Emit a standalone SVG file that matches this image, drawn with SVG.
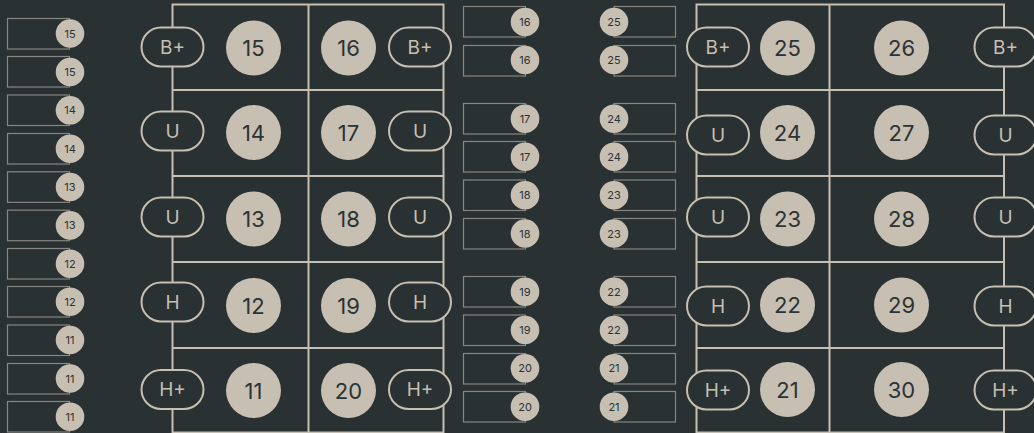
<svg xmlns="http://www.w3.org/2000/svg" width="1034" height="433" viewBox="0 0 1034 433">
<style>
.bg{fill:#293133}
.grid{fill:none;stroke:#c6bfb2;stroke-width:2}
.pill{fill:#293133;stroke:#c6bfb2;stroke-width:2}
.pt{font-family:Inter,"Liberation Sans",sans-serif;font-size:19px;fill:#c6bfb2;text-anchor:middle;dominant-baseline:central}
.big{fill:#c6bfb2}
.bt{font-family:Inter,"Liberation Sans",sans-serif;font-size:22px;fill:#2b3335;text-anchor:middle;dominant-baseline:central}
.sb{fill:none;stroke:#878680;stroke-width:1.2}
.sc{fill:#c6bfb2}
.st{font-family:Inter,"Liberation Sans",sans-serif;font-size:11px;fill:#2b3335;text-anchor:middle;dominant-baseline:central}
</style>
<defs>
<rect id="pl" x="-31" y="-19.5" width="62" height="39" rx="19.5" class="pill"/>
</defs>
<rect class="bg" x="0" y="0" width="1034" height="433"/>

<g id="connectors">
<rect class="grid" x="172.5" y="4.5" width="271" height="428"/>
<line class="grid" x1="308.5" y1="4.5" x2="308.5" y2="432.5"/>
<line class="grid" x1="172.5" y1="90" x2="443.5" y2="90"/>
<line class="grid" x1="172.5" y1="176" x2="443.5" y2="176"/>
<line class="grid" x1="172.5" y1="262" x2="443.5" y2="262"/>
<line class="grid" x1="172.5" y1="348" x2="443.5" y2="348"/>
<rect class="grid" x="696.5" y="4.5" width="307.5" height="428"/>
<line class="grid" x1="829.5" y1="4.5" x2="829.5" y2="432.5"/>
<line class="grid" x1="696.5" y1="90" x2="1004" y2="90"/>
<line class="grid" x1="696.5" y1="176" x2="1004" y2="176"/>
<line class="grid" x1="696.5" y1="262" x2="1004" y2="262"/>
<line class="grid" x1="696.5" y1="348" x2="1004" y2="348"/>
</g>

<g id="left-grid-circles">
<g id="c15"><circle class="big" cx="253.5" cy="48" r="27.5"/><text class="bt" x="253.5" y="48">15</text></g>
<g id="c14"><circle class="big" cx="253.5" cy="132.5" r="27.5"/><text class="bt" x="253.5" y="132.5">14</text></g>
<g id="c13"><circle class="big" cx="253.5" cy="219" r="27.5"/><text class="bt" x="253.5" y="219">13</text></g>
<g id="c12"><circle class="big" cx="253.5" cy="305.5" r="27.5"/><text class="bt" x="253.5" y="305.5">12</text></g>
<g id="c11"><circle class="big" cx="253.5" cy="390.5" r="27.5"/><text class="bt" x="253.5" y="390.5">11</text></g>
<g id="c16"><circle class="big" cx="348.5" cy="48" r="27.5"/><text class="bt" x="348.5" y="48">16</text></g>
<g id="c17"><circle class="big" cx="348.5" cy="132.5" r="27.5"/><text class="bt" x="348.5" y="132.5">17</text></g>
<g id="c18"><circle class="big" cx="348.5" cy="219" r="27.5"/><text class="bt" x="348.5" y="219">18</text></g>
<g id="c19"><circle class="big" cx="348.5" cy="305.5" r="27.5"/><text class="bt" x="348.5" y="305.5">19</text></g>
<g id="c20"><circle class="big" cx="348.5" cy="390.5" r="27.5"/><text class="bt" x="348.5" y="390.5">20</text></g>
</g>

<g id="right-grid-circles">
<g id="c25"><circle class="big" cx="787.5" cy="48" r="27.5"/><text class="bt" x="787.5" y="48">25</text></g>
<g id="c24"><circle class="big" cx="787.5" cy="132.5" r="27.5"/><text class="bt" x="787.5" y="132.5">24</text></g>
<g id="c23"><circle class="big" cx="787.5" cy="219" r="27.5"/><text class="bt" x="787.5" y="219">23</text></g>
<g id="c22"><circle class="big" cx="787.5" cy="305" r="27.5"/><text class="bt" x="787.5" y="305">22</text></g>
<g id="c21"><circle class="big" cx="787.5" cy="389.5" r="27.5"/><text class="bt" x="787.5" y="389.5">21</text></g>
<g id="c26"><circle class="big" cx="901.5" cy="48" r="27.5"/><text class="bt" x="901.5" y="48">26</text></g>
<g id="c27"><circle class="big" cx="901.5" cy="132.5" r="27.5"/><text class="bt" x="901.5" y="132.5">27</text></g>
<g id="c28"><circle class="big" cx="901.5" cy="219" r="27.5"/><text class="bt" x="901.5" y="219">28</text></g>
<g id="c29"><circle class="big" cx="901.5" cy="305" r="27.5"/><text class="bt" x="901.5" y="305">29</text></g>
<g id="c30"><circle class="big" cx="901.5" cy="389.5" r="27.5"/><text class="bt" x="901.5" y="389.5">30</text></g>
</g>

<g id="pills">
<g id="p1" transform="translate(172.5,47)"><use href="#pl"/><text class="pt" x="0" y="0">B+</text></g>
<g id="p2" transform="translate(172.5,131)"><use href="#pl"/><text class="pt" x="0" y="0">U</text></g>
<g id="p3" transform="translate(172.5,217)"><use href="#pl"/><text class="pt" x="0" y="0">U</text></g>
<g id="p4" transform="translate(172.5,302)"><use href="#pl"/><text class="pt" x="0" y="0">H</text></g>
<g id="p5" transform="translate(172.5,389.5)"><use href="#pl"/><text class="pt" x="0" y="0">H+</text></g>
<g id="p6" transform="translate(420,47)"><use href="#pl"/><text class="pt" x="0" y="0">B+</text></g>
<g id="p7" transform="translate(420,131)"><use href="#pl"/><text class="pt" x="0" y="0">U</text></g>
<g id="p8" transform="translate(420,217)"><use href="#pl"/><text class="pt" x="0" y="0">U</text></g>
<g id="p9" transform="translate(420,302)"><use href="#pl"/><text class="pt" x="0" y="0">H</text></g>
<g id="p10" transform="translate(420,389.5)"><use href="#pl"/><text class="pt" x="0" y="0">H+</text></g>
<g id="p11" transform="translate(718,47)"><use href="#pl"/><text class="pt" x="0" y="0">B+</text></g>
<g id="p12" transform="translate(718,135)"><use href="#pl"/><text class="pt" x="0" y="0">U</text></g>
<g id="p13" transform="translate(718,217)"><use href="#pl"/><text class="pt" x="0" y="0">U</text></g>
<g id="p14" transform="translate(718,306)"><use href="#pl"/><text class="pt" x="0" y="0">H</text></g>
<g id="p15" transform="translate(718,390)"><use href="#pl"/><text class="pt" x="0" y="0">H+</text></g>
<g id="p16" transform="translate(1005.5,47)"><use href="#pl"/><text class="pt" x="0" y="0">B+</text></g>
<g id="p17" transform="translate(1005.5,135)"><use href="#pl"/><text class="pt" x="0" y="0">U</text></g>
<g id="p18" transform="translate(1005.5,217)"><use href="#pl"/><text class="pt" x="0" y="0">U</text></g>
<g id="p19" transform="translate(1005.5,306)"><use href="#pl"/><text class="pt" x="0" y="0">H</text></g>
<g id="p20" transform="translate(1005.5,390)"><use href="#pl"/><text class="pt" x="0" y="0">H+</text></g>
</g>

<g id="left-tags">
<g id="l1"><rect class="sb" x="7.5" y="18.5" width="62" height="30.5"/><circle class="sc" cx="70" cy="33.5" r="14.3"/><text class="st" x="70" y="33.5">15</text></g>
<g id="l2"><rect class="sb" x="7.5" y="56.5" width="62" height="30.5"/><circle class="sc" cx="70" cy="72" r="14.3"/><text class="st" x="70" y="72">15</text></g>
<g id="l3"><rect class="sb" x="7.5" y="95" width="62" height="30.5"/><circle class="sc" cx="70" cy="110.3" r="14.3"/><text class="st" x="70" y="110.3">14</text></g>
<g id="l4"><rect class="sb" x="7.5" y="133.5" width="62" height="30.5"/><circle class="sc" cx="70" cy="148.7" r="14.3"/><text class="st" x="70" y="148.7">14</text></g>
<g id="l5"><rect class="sb" x="7.5" y="171.8" width="62" height="30.5"/><circle class="sc" cx="70" cy="187" r="14.3"/><text class="st" x="70" y="187">13</text></g>
<g id="l6"><rect class="sb" x="7.5" y="210.2" width="62" height="30.5"/><circle class="sc" cx="70" cy="225.4" r="14.3"/><text class="st" x="70" y="225.4">13</text></g>
<g id="l7"><rect class="sb" x="7.5" y="248.5" width="62" height="30.5"/><circle class="sc" cx="70" cy="263.7" r="14.3"/><text class="st" x="70" y="263.7">12</text></g>
<g id="l8"><rect class="sb" x="7.5" y="286.5" width="62" height="30.5"/><circle class="sc" cx="70" cy="301.7" r="14.3"/><text class="st" x="70" y="301.7">12</text></g>
<g id="l9"><rect class="sb" x="7.5" y="325" width="62" height="30.5"/><circle class="sc" cx="70" cy="340" r="14.3"/><text class="st" x="70" y="340">11</text></g>
<g id="l10"><rect class="sb" x="7.5" y="363.5" width="62" height="30.5"/><circle class="sc" cx="70" cy="378.5" r="14.3"/><text class="st" x="70" y="378.5">11</text></g>
<g id="l11"><rect class="sb" x="7.5" y="401.5" width="62" height="30.5"/><circle class="sc" cx="70" cy="416.7" r="14.3"/><text class="st" x="70" y="416.7">11</text></g>
</g>

<g id="mid-left-tags">
<g id="m1"><rect class="sb" x="463.5" y="6.5" width="62" height="30.5"/><circle class="sc" cx="525" cy="22" r="14.3"/><text class="st" x="525" y="22">16</text></g>
<g id="m2"><rect class="sb" x="463.5" y="45.5" width="62" height="30.5"/><circle class="sc" cx="525" cy="60" r="14.3"/><text class="st" x="525" y="60">16</text></g>
<g id="m3"><rect class="sb" x="463.5" y="103.5" width="62" height="30.5"/><circle class="sc" cx="525" cy="118.7" r="14.3"/><text class="st" x="525" y="118.7">17</text></g>
<g id="m4"><rect class="sb" x="463.5" y="141.5" width="62" height="30.5"/><circle class="sc" cx="525" cy="156.7" r="14.3"/><text class="st" x="525" y="156.7">17</text></g>
<g id="m5"><rect class="sb" x="463.5" y="180" width="62" height="30.5"/><circle class="sc" cx="525" cy="195.2" r="14.3"/><text class="st" x="525" y="195.2">18</text></g>
<g id="m6"><rect class="sb" x="463.5" y="218.5" width="62" height="30.5"/><circle class="sc" cx="525" cy="233.5" r="14.3"/><text class="st" x="525" y="233.5">18</text></g>
<g id="m7"><rect class="sb" x="463.5" y="276.5" width="62" height="30.5"/><circle class="sc" cx="525" cy="291.7" r="14.3"/><text class="st" x="525" y="291.7">19</text></g>
<g id="m8"><rect class="sb" x="463.5" y="315" width="62" height="30.5"/><circle class="sc" cx="525" cy="330" r="14.3"/><text class="st" x="525" y="330">19</text></g>
<g id="m9"><rect class="sb" x="463.5" y="353.5" width="62" height="30.5"/><circle class="sc" cx="525" cy="368.3" r="14.3"/><text class="st" x="525" y="368.3">20</text></g>
<g id="m10"><rect class="sb" x="463.5" y="391.5" width="62" height="30.5"/><circle class="sc" cx="525" cy="406.7" r="14.3"/><text class="st" x="525" y="406.7">20</text></g>
</g>

<g id="mid-right-tags">
<g id="r1"><rect class="sb" x="614" y="6.5" width="61.5" height="30.5"/><circle class="sc" cx="614" cy="22" r="14.3"/><text class="st" x="614" y="22">25</text></g>
<g id="r2"><rect class="sb" x="614" y="45.5" width="61.5" height="30.5"/><circle class="sc" cx="614" cy="60" r="14.3"/><text class="st" x="614" y="60">25</text></g>
<g id="r3"><rect class="sb" x="614" y="103.5" width="61.5" height="30.5"/><circle class="sc" cx="614" cy="118.7" r="14.3"/><text class="st" x="614" y="118.7">24</text></g>
<g id="r4"><rect class="sb" x="614" y="141.5" width="61.5" height="30.5"/><circle class="sc" cx="614" cy="156.7" r="14.3"/><text class="st" x="614" y="156.7">24</text></g>
<g id="r5"><rect class="sb" x="614" y="180" width="61.5" height="30.5"/><circle class="sc" cx="614" cy="195.2" r="14.3"/><text class="st" x="614" y="195.2">23</text></g>
<g id="r6"><rect class="sb" x="614" y="218.5" width="61.5" height="30.5"/><circle class="sc" cx="614" cy="233.5" r="14.3"/><text class="st" x="614" y="233.5">23</text></g>
<g id="r7"><rect class="sb" x="614" y="276.5" width="61.5" height="30.5"/><circle class="sc" cx="614" cy="291.7" r="14.3"/><text class="st" x="614" y="291.7">22</text></g>
<g id="r8"><rect class="sb" x="614" y="315" width="61.5" height="30.5"/><circle class="sc" cx="614" cy="330" r="14.3"/><text class="st" x="614" y="330">22</text></g>
<g id="r9"><rect class="sb" x="614" y="353.5" width="61.5" height="30.5"/><circle class="sc" cx="614" cy="368.3" r="14.3"/><text class="st" x="614" y="368.3">21</text></g>
<g id="r10"><rect class="sb" x="614" y="391.5" width="61.5" height="30.5"/><circle class="sc" cx="614" cy="406.7" r="14.3"/><text class="st" x="614" y="406.7">21</text></g>
</g>
</svg>
